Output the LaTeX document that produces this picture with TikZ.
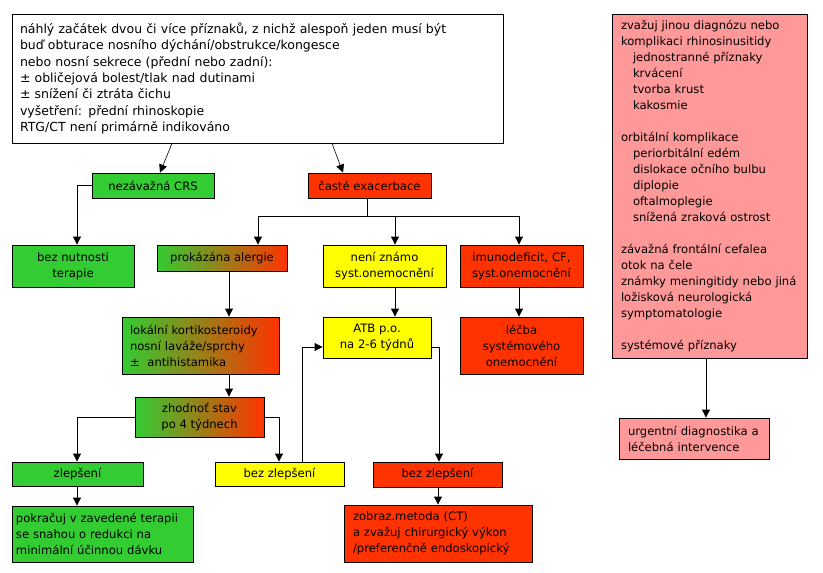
\documentclass[tikz,border=0pt]{standalone}
\usepackage{fontspec}
\setmainfont{DejaVu Sans}
\usepackage{tikz}
\usetikzlibrary{arrows.meta}
\definecolor{grn}{RGB}{51,204,51}
\definecolor{rd}{RGB}{255,51,0}
\definecolor{yel}{RGB}{255,255,0}
\definecolor{pnk}{RGB}{255,153,153}
\newcommand{\boxfont}{\fontsize{11.6}{16}\selectfont}
\newcommand{\topfont}{\fontsize{12.5}{16.4}\selectfont}
\newcommand{\ind}{\hspace*{12pt}}

\begin{document}
\begin{tikzpicture}[x=1pt, y=-1pt,
  box/.style={draw, line width=0.9pt, inner sep=0pt, font=\boxfont, align=center},
  lbox/.style={box, align=left},
  grad/.style={box, left color=grn, right color=rd},
  arr/.style={line width=0.9pt, -{Triangle[width=8pt,length=8pt]}},
  thin/.style={line width=0.6pt, -{Triangle[width=8pt,length=8pt]}}]
\useasboundingbox (0,0) rectangle (823,573);
% top
\node[lbox, fill=white, font=\topfont, minimum width=491, minimum height=129, text width=475] (onset) at (257.5,78.5)
  {náhlý začátek dvou či více příznaků, z nichž alespoň jeden musí být\\
   buď obturace nosního dýchání/obstrukce/kongesce\\
   nebo nosní sekrece (přední nebo zadní):\\
   ± obličejová bolest/tlak nad dutinami\\
   ± snížení či ztráta čichu\\
   vyšetření: přední rhinoskopie\\
   RTG/CT není primárně indikováno};
\node[box, fill=grn, minimum width=122, minimum height=25] (mild) at (153,185.5) {nezávažná CRS};
\node[box, fill=rd, minimum width=123, minimum height=25] (exac) at (369.5,185.5) {časté exacerbace};
% second row
\node[box, fill=grn, minimum width=122, minimum height=42] (nother) at (73,266) {bez nutnosti\\terapie};
\node[grad, minimum width=130, minimum height=26] (allerg) at (222,258) {prokázána alergie};
\node[box, fill=yel, minimum width=123, minimum height=42] (unkn) at (384.5,266) {není známo\\syst.onemocnění};
\node[box, fill=rd, minimum width=123, minimum height=42] (immun) at (521.5,266) {imunodeficit, CF,\\syst.onemocnění};
% third row
\node[lbox, left color=grn, right color=rd, minimum width=157, minimum height=57, text width=141] (steroid) at (200.5,345.5)
  {lokální kortikosteroidy\\nosní laváže/sprchy\\± \ antihistamika};
\node[box, fill=yel, minimum width=108, minimum height=41] (atb) at (377,337.5) {ATB p.o.\\na 2-6 týdnů};
\node[box, fill=rd, minimum width=123, minimum height=57] (systx) at (521.5,345.5) {léčba\\systémového\\onemocnění};
\node[grad, minimum width=129, minimum height=40] (review) at (199.5,417) {zhodnoť stav\\po 4 týdnech};
% outcomes
\node[box, fill=grn, minimum width=131, minimum height=24] (better) at (77.5,474) {zlepšení};
\node[box, fill=yel, minimum width=129, minimum height=24] (nobetY) at (279.5,474) {bez zlepšení};
\node[box, fill=rd, minimum width=129, minimum height=25] (nobetR) at (437.5,474.5) {bez zlepšení};
\node[lbox, fill=grn, minimum width=181, minimum height=56, text width=173] (cont) at (102.5,534)
  {pokračuj v zavedené terapii\\se snahou o redukci na\\minimální účinnou dávku};
\node[lbox, fill=rd, minimum width=188, minimum height=57, text width=170] (imaging) at (438,533.5)
  {zobraz.metoda (CT)\\a zvažuj chirurgický výkon\\/preferenčně endoskopický};
% right column
\node[lbox, fill=pnk, minimum width=195, minimum height=344, text width=177] (redflag) at (709.5,186)
  {zvažuj jinou diagnózu nebo\\komplikaci rhinosinusitidy\\
   \ind jednostranné příznaky\\\ind krvácení\\\ind tvorba krust\\\ind kakosmie\\[16pt]
   orbitální komplikace\\\ind periorbitální edém\\\ind dislokace očního bulbu\\\ind diplopie\\
   \ind oftalmoplegie\\\ind snížená zraková ostrost\\[16pt]
   závažná frontální cefalea\\otok na čele\\známky meningitidy nebo jiná\\ložisková neurologická\\
   symptomatologie\\[16pt]
   systémové příznaky};
\node[lbox, fill=pnk, minimum width=150, minimum height=41, text width=132] (urgent) at (694,438.5)
  {urgentní diagnostika a\\léčebná intervence};
% connectors
\draw[thin] (onset.south -| 172,0) -- (mild.north -| 160,0);
\draw[thin] (onset.south -| 332,0) -- (exac.north -| 343,0);
\draw[arr] (mild.west) -| (nother.north -| 77,0);
\draw[arr] (exac.south -| 367,0) -- ++(0,18) -| (allerg.north -| 258,0);
\draw[arr] (exac.south -| 367,0) -- ++(0,18) -| (unkn.north -| 395,0);
\draw[arr] (exac.south -| 367,0) -- ++(0,18) -| (immun.north -| 519,0);
\draw[arr] (allerg.south -| 229,0) -- (steroid.north -| 229,0);
\draw[arr] (unkn.south -| 395,0) -- (atb.north -| 395,0);
\draw[arr] (immun.south -| 519,0) -- (systx.north -| 519,0);
\draw[arr] (steroid.south -| 229,0) -- (review.north -| 229,0);
\draw[arr] (review.west) -| (better.north -| 77,0);
\draw[arr] (review.east) -| (nobetY.north -| 279,0);
\draw[arr] (better.south -| 77,0) -- (cont.north -| 77,0);
\draw[arr] (nobetY.north -| 302,0) |- (atb.west |- 0,347);
\draw[arr] (atb.east |- 0,347) -| (nobetR.north -| 439,0);
\draw[arr] (nobetR.south -| 438,0) -- (imaging.north -| 438,0);
\draw[arr] (redflag.south -| 706,0) -- (urgent.north -| 706,0);
\end{tikzpicture}
\end{document}
